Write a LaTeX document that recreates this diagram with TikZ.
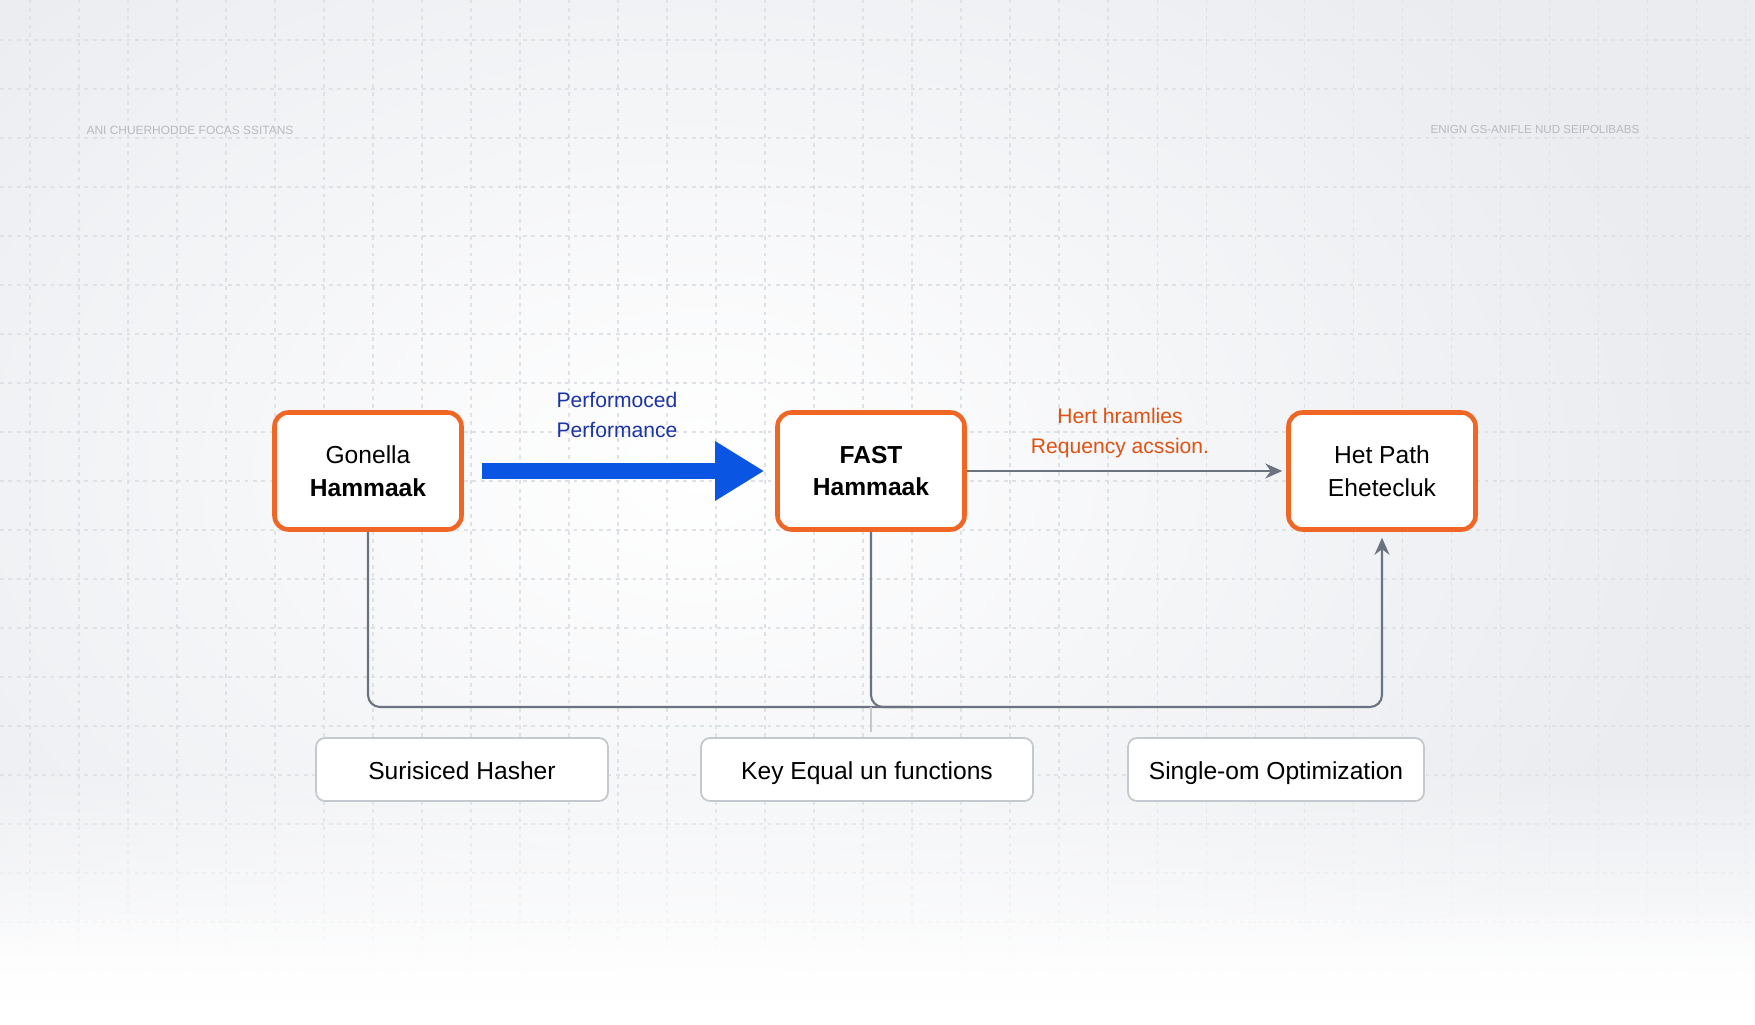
\documentclass[tikz,border=0pt]{standalone}
\usepackage{fontspec}
\setmainfont{Liberation Sans}
\usetikzlibrary{arrows.meta, fadings}

\definecolor{sfondo}{RGB}{234,236,240}
\definecolor{griglia}{RGB}{222,225,230}
\definecolor{arancio}{RGB}{240,102,36}
\definecolor{blu}{RGB}{10,86,226}
\definecolor{blutesto}{RGB}{28,52,165}
\definecolor{aranciotesto}{RGB}{222,82,20}
\definecolor{grigiolinea}{RGB}{108,115,128}
\definecolor{grigiobordo}{RGB}{196,200,207}
\definecolor{grigiotitolo}{RGB}{182,186,192}

\tikzset{
	mainbox/.style={draw=arancio, line width=1.3pt, fill=white, rounded corners=0.14cm,
		minimum width=1.87cm, minimum height=1.17cm, inner sep=0pt, align=center,
		font=\fontsize{7}{9.3}\selectfont},
	subbox/.style={draw=grigiobordo, line width=0.5pt, fill=white, rounded corners=0.09cm,
		minimum height=0.63cm, inner sep=0pt, text height=1.55ex, text depth=0.45ex,
		font=\fontsize{7}{8.5}\selectfont},
	edgelbl/.style={align=center, font=\fontsize{6}{8.5}\selectfont},
	gridline/.style={griglia, line width=0.3pt, dash pattern=on 1.1pt off 1.3pt},
	connector/.style={grigiolinea, line width=0.6pt, rounded corners=0.12cm},
}

\begin{document}
\begin{tikzpicture}[>={Stealth[length=1.7mm, width=1.5mm]}]
	%%%	Sfondo
	\useasboundingbox (0,0) rectangle (17.55,10.24);
	\fill[sfondo] (0,0) rectangle (17.55,10.24);
	\shade[inner color=white, outer color=sfondo] (-3,-1.5) rectangle (17,12.5);
	% griglia
	\foreach \x in {0,...,35}
		\draw[gridline] (0.30+0.49*\x,0) -- (0.30+0.49*\x,10.24);
	\foreach \y in {0,...,20}
		\draw[gridline] (0,9.84-0.49*\y) -- (17.55,9.84-0.49*\y);
	\fill[white, path fading=north] (0,0.2) rectangle (17.55,2.6);
	\fill[white, path fading=north] (0,0.2) rectangle (17.55,1.2);
	\fill[white] (-0.1,-0.1) rectangle (17.65,0.25);
	% titoli
	\node[grigiotitolo, font=\fontsize{3.4}{4}\selectfont] (titsx) at (1.90,8.94) {ANI CHUERHODDE FOCAS SSITANS};
	\node[grigiotitolo, font=\fontsize{3.3}{4}\selectfont] (titdx) at (15.35,8.94) {ENIGN GS-ANIFLE NUD SEIPOLIBABS};
	
	%%%	Disegno
	% Blocchi principali
	\node[mainbox] (gon) at (3.68,5.53) {Gonella\\\textbf{Hammaak}};
	\node[mainbox] (fast) at (8.71,5.53) {\textbf{FAST}\\\textbf{Hammaak}};
	\node[mainbox] (het) at (13.82,5.53) {Het Path\\Ehetecluk};
	
	% Blocchi inferiori
	\node[subbox, minimum width=2.92cm] (hasher) at (4.62,2.545) {Surisiced Hasher};
	\node[subbox, minimum width=3.32cm] (keyeq) at (8.67,2.545) {Key Equal un functions};
	\node[subbox, minimum width=2.96cm] (single) at (12.76,2.545) {Single-om Optimization};
	
	% Frecce
	\draw[blu, line width=0.157cm, -{Triangle[length=0.49cm, width=0.56cm]},
		shorten <=0.18cm, shorten >=0.11cm] (gon) -- (fast);
	\node[edgelbl, blutesto] (lblblu) at (6.17,6.09) {Performoced\\Performance};
	
	\draw[grigiolinea, line width=0.6pt, ->, shorten >=0.04cm] (fast.east) -- (het.west);
	\node[edgelbl, aranciotesto] (lblarancio) at (11.20,5.91) {Hert hramlies\\Requency acssion.};
	
	% Collegamenti
	\coordinate (giu) at (0,3.17);
	\draw[connector, ->, shorten >=0.06cm] (gon.south) -- (gon.south |- giu) -- (het.south |- giu) -- (het.south);
	\draw[connector] (fast.south) -- (fast.south |- giu) -- ++(0.4,0);
	\draw[grigiolinea!40, line width=0.5pt] (fast.south |- giu) -- ++(0,-0.25);
	
\end{tikzpicture}
\end{document}
